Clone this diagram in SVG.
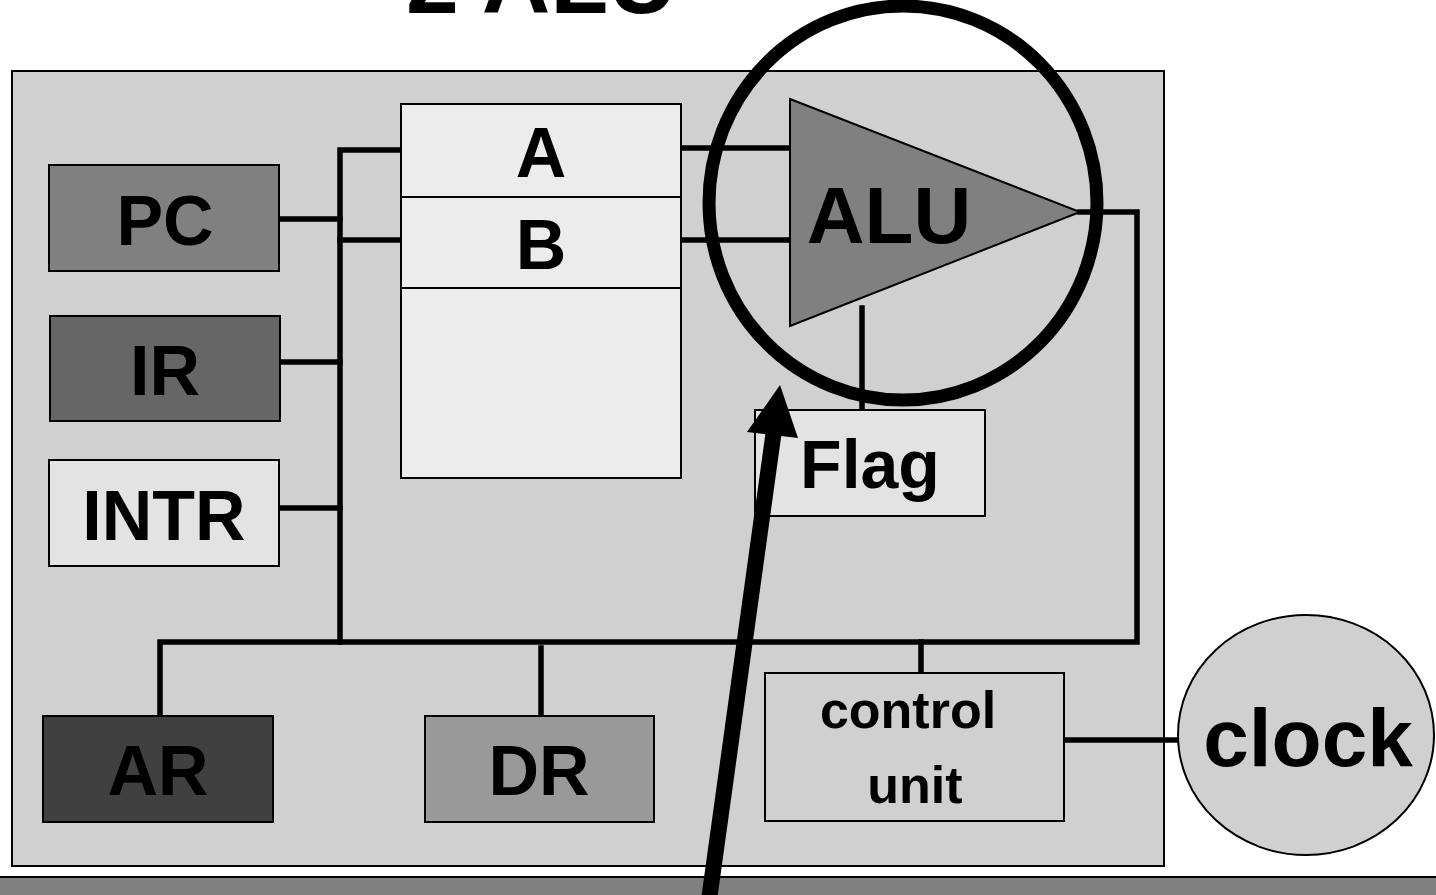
<svg xmlns="http://www.w3.org/2000/svg" width="1436" height="895" viewBox="0 0 1436 895">
<style>
.box{stroke:#000;stroke-width:2}
.lbl{font-family:"Liberation Sans",Arial,sans-serif;font-weight:bold;fill:#000;text-anchor:middle}
.wire{stroke:#000;stroke-width:5.5;fill:none;stroke-linecap:square}
</style>
<rect width="1436" height="895" fill="#fff"/>
<text x="406" y="13" font-family="Liberation Sans,Arial,sans-serif" font-weight="bold" font-size="95">2 ALU</text>
<g id="panel"><rect x="12" y="71" width="1152" height="795" fill="#d0d0d0" class="box"/></g>
<g id="bottom-bar"><rect x="-2" y="877" width="1440" height="22" fill="#808080" stroke="#000" stroke-width="2"/></g>
<g id="connectors">
<polyline class="wire" points="401,150 340,150 340,642"/>
<line class="wire" x1="340" y1="240" x2="401" y2="240"/>
<line class="wire" x1="279" y1="219" x2="340" y2="219"/>
<line class="wire" x1="280" y1="362" x2="340" y2="362"/>
<line class="wire" x1="279" y1="508" x2="340" y2="508"/>
<line class="wire" x1="681" y1="148" x2="790" y2="148"/>
<line class="wire" x1="681" y1="240" x2="790" y2="240"/>
<polyline class="wire" points="1080,212 1137,212 1137,642 160,642 160,716"/>
<line class="wire" x1="541" y1="648" x2="541" y2="716"/>
<line class="wire" x1="921" y1="642" x2="921" y2="673"/>
<line class="wire" x1="862" y1="308" x2="862" y2="410"/>
<line class="wire" x1="1064" y1="740" x2="1178" y2="740"/>
</g>
<g id="PC"><rect x="49" y="165" width="230" height="106" fill="#808080" class="box"/><text class="lbl" x="165" y="245" font-size="70">PC</text></g>
<g id="IR"><rect x="50" y="316" width="230" height="105" fill="#666" class="box"/><text class="lbl" x="165" y="395" font-size="70">IR</text></g>
<g id="INTR"><rect x="49" y="460" width="230" height="106" fill="#e3e3e3" class="box"/><text class="lbl" x="164" y="540" font-size="70">INTR</text></g>
<g id="registers">
<rect x="401" y="104" width="280" height="374" fill="#ececec" class="box"/>
<line x1="401" y1="197" x2="681" y2="197" stroke="#000" stroke-width="2"/>
<line x1="401" y1="288" x2="681" y2="288" stroke="#000" stroke-width="2"/>
<text class="lbl" x="541" y="177" font-size="70">A</text>
<text class="lbl" x="541" y="269" font-size="70">B</text>
</g>
<g id="ALU"><polygon points="790,99 1080,212 790,326" fill="#808080" stroke="#000" stroke-width="2"/><text class="lbl" x="889" y="243" font-size="80">ALU</text></g>
<g id="Flag"><rect x="755" y="410" width="230" height="106" fill="#e3e3e3" class="box"/><text class="lbl" x="870" y="488" font-size="68">Flag</text></g>
<g id="AR"><rect x="43" y="716" width="230" height="106" fill="#404040" class="box"/><text class="lbl" x="158" y="795" font-size="70">AR</text></g>
<g id="DR"><rect x="425" y="716" width="229" height="106" fill="#999" class="box"/><text class="lbl" x="539" y="795" font-size="70">DR</text></g>
<g id="control-unit"><rect x="765" y="673" width="299" height="148" fill="#d0d0d0" class="box"/><text class="lbl" x="908" y="728" font-size="52">control</text><text class="lbl" x="915" y="803" font-size="52">unit</text></g>
<g id="clock"><ellipse cx="1306" cy="735" rx="128" ry="120" fill="#d0d0d0" stroke="#000" stroke-width="2"/><text class="lbl" x="1308" y="766" font-size="82">clock</text></g>
<g id="highlight"><ellipse cx="903" cy="203" rx="194" ry="197" fill="none" stroke="#000" stroke-width="13"/></g>
<g id="pointer">
<line x1="709" y1="900" x2="774" y2="430" stroke="#000" stroke-width="16"/>
<polygon points="780,385 798,438 747,432" fill="#000"/>
</g>
</svg>
